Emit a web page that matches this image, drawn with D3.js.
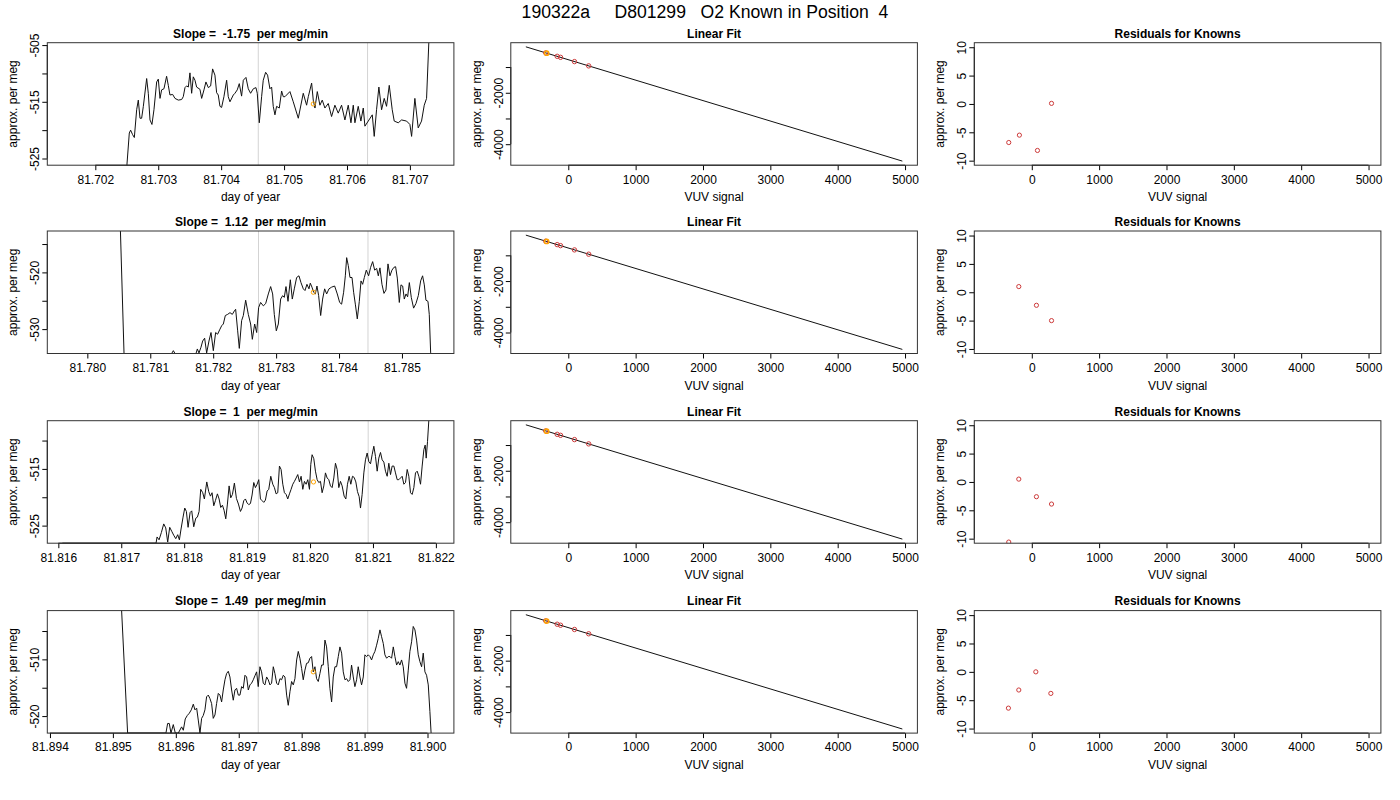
<!DOCTYPE html>
<html><head><meta charset="utf-8">
<script src="https://cdn.jsdelivr.net/npm/d3@7"></script>
<style>
body{margin:0;background:#fff;}
svg{font-family:"Liberation Sans",Arial,Helvetica,sans-serif;}
text{white-space:pre;}
</style></head><body>
<svg id="c" width="1400" height="800"></svg>
<script>
// ---------------- DATA ----------------
const mainTitle = "190322a     D801299   O2 Known in Position  4";
const tsTitles = ["Slope =  -1.75  per meg/min", "Slope =  1.12  per meg/min", "Slope =  1  per meg/min", "Slope =  1.49  per meg/min"];

const series1 = [[81.701476,-540],[81.702480,-540],[81.702503,-526.0],[81.702540,-520.5],[81.702561,-520.0],[81.702593,-520.8],[81.702620,-521.3],[81.702657,-516.4],[81.702683,-514.7],[81.702710,-517.9],[81.702736,-517.9],[81.702763,-515.8],[81.702816,-510.9],[81.702842,-513.5],[81.702869,-518.2],[81.702900,-519.0],[81.702932,-516.4],[81.702975,-511.5],[81.703001,-511.0],[81.703028,-514.4],[81.703054,-512.9],[81.703091,-512.7],[81.703133,-510.5],[81.703160,-512.1],[81.703186,-513.8],[81.703229,-513.7],[81.703266,-514.4],[81.703319,-514.7],[81.703372,-514.6],[81.703398,-514.1],[81.703425,-512.5],[81.703451,-512.2],[81.703478,-512.4],[81.703504,-509.9],[81.703531,-513.5],[81.703557,-510.6],[81.703584,-511.2],[81.703610,-512.4],[81.703663,-512.8],[81.703690,-514.4],[81.703727,-512.9],[81.703758,-511.5],[81.703796,-512.5],[81.703833,-512.2],[81.703864,-509.2],[81.703901,-510.3],[81.703928,-513.4],[81.703954,-513.8],[81.703981,-515.8],[81.704007,-516.0],[81.704044,-514.1],[81.704087,-511.2],[81.704113,-514.1],[81.704140,-515.0],[81.704193,-513.8],[81.704219,-513.5],[81.704256,-512.9],[81.704288,-511.8],[81.704325,-514.0],[81.704352,-511.2],[81.704394,-510.7],[81.704431,-512.7],[81.704468,-513.5],[81.704511,-512.7],[81.704553,-512.5],[81.704574,-513.5],[81.704606,-518.7],[81.704643,-514.1],[81.704669,-511.2],[81.704707,-509.8],[81.704738,-510.3],[81.704775,-512.7],[81.704802,-512.4],[81.704828,-515.8],[81.704855,-517.3],[81.704881,-515.8],[81.704924,-516.1],[81.704961,-513.1],[81.704987,-514.1],[81.705014,-514.1],[81.705093,-513.2],[81.705146,-515.0],[81.705226,-517.9],[81.705305,-513.5],[81.705358,-515.6],[81.705385,-514.1],[81.705438,-511.7],[81.705464,-514.7],[81.705491,-516.1],[81.705528,-513.2],[81.705570,-515.6],[81.705607,-514.7],[81.705649,-516.1],[81.705702,-515.3],[81.705755,-517.6],[81.705808,-515.6],[81.705861,-517.0],[81.705914,-515.6],[81.705967,-518.2],[81.706020,-515.6],[81.706063,-518.7],[81.706100,-515.6],[81.706126,-518.7],[81.706179,-515.8],[81.706221,-518.4],[81.706259,-516.1],[81.706285,-519.3],[81.706338,-518.4],[81.706402,-517.3],[81.706433,-521.1],[81.706470,-516.4],[81.706507,-512.4],[81.706550,-516.4],[81.706592,-514.4],[81.706629,-515.8],[81.706672,-512.1],[81.706719,-516.4],[81.706751,-518.4],[81.706815,-518.7],[81.706868,-518.2],[81.706947,-518.4],[81.707000,-519.0],[81.707027,-521.1],[81.707079,-514.4],[81.707132,-519.6],[81.707185,-518.4],[81.707228,-515.6],[81.707265,-514.4],[81.707302,-504.2],[81.707460,-490]];

const series2 = [[81.779603,-498],[81.780508,-506],[81.780583,-534.3],[81.781340,-534.3],[81.781367,-533.8],[81.781393,-534.3],[81.781727,-534.3],[81.781748,-533.5],[81.781774,-534.2],[81.781806,-533.2],[81.781833,-532.1],[81.781864,-531.6],[81.781896,-534.2],[81.781933,-532.1],[81.781965,-530.6],[81.782002,-533.8],[81.782039,-530.6],[81.782070,-530.9],[81.782108,-530.0],[81.782135,-529.4],[81.782161,-529.1],[81.782193,-527.6],[81.782230,-527.4],[81.782267,-527.1],[81.782304,-527.4],[81.782336,-526.8],[81.782357,-526.5],[81.782389,-530.3],[81.782415,-533.4],[81.782452,-528.5],[81.782479,-527.6],[81.782516,-524.9],[81.782558,-527.4],[81.782595,-529.1],[81.782622,-531.8],[81.782659,-529.1],[81.782691,-530.6],[81.782722,-526.2],[81.782754,-525.3],[81.782797,-525.9],[81.782834,-525.5],[81.782876,-523.8],[81.782913,-522.5],[81.782945,-523.8],[81.782971,-527.4],[81.783003,-530.3],[81.783035,-529.1],[81.783072,-524.7],[81.783104,-524.1],[81.783130,-524.4],[81.783157,-522.5],[81.783189,-525.1],[81.783226,-521.3],[81.783257,-524.7],[81.783289,-522.9],[81.783326,-520.9],[81.783363,-520.6],[81.783395,-521.8],[81.783432,-522.9],[81.783459,-523.2],[81.783490,-522.1],[81.783522,-522.9],[81.783543,-521.9],[81.783570,-522.6],[81.783596,-523.5],[81.783623,-523.8],[81.783649,-522.4],[81.783676,-524.1],[81.783708,-527.6],[81.783739,-524.7],[81.783771,-522.9],[81.783803,-523.8],[81.783840,-522.9],[81.783882,-522.6],[81.783930,-522.4],[81.783972,-523.8],[81.784010,-525.3],[81.784041,-525.6],[81.784073,-523.5],[81.784100,-520.6],[81.784121,-517.4],[81.784147,-518.8],[81.784174,-520.9],[81.784206,-520.9],[81.784232,-523.5],[81.784259,-525.6],[81.784290,-528.2],[81.784322,-525.1],[81.784349,-521.5],[81.784375,-522.1],[81.784402,-520.9],[81.784433,-519.6],[81.784470,-520.6],[81.784502,-519.1],[81.784534,-518.1],[81.784566,-519.6],[81.784598,-519.3],[81.784624,-520.6],[81.784650,-519.2],[81.784682,-522.1],[81.784714,-523.7],[81.784746,-523.1],[81.784778,-518.5],[81.784809,-520.6],[81.784841,-519.6],[81.784873,-519.1],[81.784899,-519.0],[81.784926,-521.0],[81.784958,-525.3],[81.784984,-522.2],[81.785011,-522.4],[81.785037,-524.7],[81.785064,-523.8],[81.785090,-524.3],[81.785117,-521.8],[81.785148,-524.4],[81.785185,-526.3],[81.785222,-525.5],[81.785260,-524.1],[81.785297,-521.5],[81.785328,-520.6],[81.785355,-522.2],[81.785381,-524.9],[81.785413,-525.1],[81.785434,-527.4],[81.785456,-534.2],[81.785586,-545]];

const series3 = [[81.816064,-528.1],[81.817553,-528.1],[81.817569,-527.0],[81.817601,-527.5],[81.817638,-526.2],[81.817675,-524.7],[81.817707,-525.4],[81.817738,-527.9],[81.817770,-525.3],[81.817802,-526.0],[81.817834,-526.7],[81.817866,-527.3],[81.817897,-526.6],[81.817924,-527.5],[81.817950,-525.6],[81.817982,-523.5],[81.818009,-521.9],[81.818035,-522.5],[81.818062,-525.3],[81.818094,-522.7],[81.818120,-522.4],[81.818152,-525.2],[81.818184,-523.7],[81.818210,-523.5],[81.818237,-522.5],[81.818263,-518.6],[81.818295,-519.2],[81.818321,-520.3],[81.818359,-517.3],[81.818390,-519.0],[81.818417,-519.8],[81.818443,-519.2],[81.818470,-521.5],[81.818496,-520.6],[81.818528,-519.4],[81.818555,-520.3],[81.818581,-521.8],[81.818608,-521.4],[81.818634,-522.3],[81.818661,-523.8],[81.818687,-521.2],[81.818714,-518.0],[81.818740,-520.1],[81.818767,-519.5],[81.818798,-517.5],[81.818830,-520.2],[81.818862,-521.2],[81.818894,-522.5],[81.818920,-521.9],[81.818947,-520.6],[81.818973,-520.3],[81.819000,-521.0],[81.819026,-521.3],[81.819053,-521.1],[81.819079,-519.6],[81.819106,-517.4],[81.819132,-518.3],[81.819159,-517.7],[81.819185,-516.9],[81.819212,-520.3],[81.819238,-520.6],[81.819265,-520.9],[81.819291,-520.5],[81.819318,-518.9],[81.819344,-518.6],[81.819376,-516.3],[81.819408,-517.7],[81.819434,-518.3],[81.819461,-519.4],[81.819487,-519.2],[81.819514,-514.5],[81.819540,-515.1],[81.819567,-517.7],[81.819593,-519.2],[81.819620,-519.5],[81.819646,-520.3],[81.819673,-519.4],[81.819699,-518.6],[81.819726,-517.7],[81.819752,-517.2],[81.819779,-516.6],[81.819805,-516.0],[81.819832,-517.3],[81.819858,-516.3],[81.819885,-518.6],[81.819911,-517.2],[81.819938,-517.7],[81.819964,-516.9],[81.819991,-518.6],[81.820012,-514.2],[81.820033,-512.5],[81.820060,-513.2],[81.820086,-515.4],[81.820113,-516.9],[81.820139,-517.4],[81.820166,-517.2],[81.820192,-519.2],[81.820219,-518.0],[81.820245,-515.7],[81.820272,-516.6],[81.820298,-516.9],[81.820325,-518.0],[81.820351,-518.3],[81.820378,-516.6],[81.820404,-514.0],[81.820431,-515.1],[81.820457,-518.3],[81.820484,-517.2],[81.820510,-518.0],[81.820542,-519.8],[81.820569,-520.3],[81.820595,-517.7],[81.820622,-516.3],[81.820648,-517.7],[81.820675,-516.3],[81.820701,-516.5],[81.820728,-517.3],[81.820754,-519.0],[81.820781,-519.9],[81.820802,-521.9],[81.820828,-519.5],[81.820855,-515.7],[81.820881,-513.4],[81.820908,-512.2],[81.820934,-513.7],[81.820961,-514.1],[81.820987,-512.5],[81.821014,-511.0],[81.821040,-512.8],[81.821067,-515.4],[81.821093,-513.1],[81.821120,-512.1],[81.821146,-513.4],[81.821173,-513.8],[81.821199,-515.4],[81.821226,-516.3],[81.821252,-514.0],[81.821279,-516.0],[81.821305,-514.5],[81.821332,-514.5],[81.821358,-515.7],[81.821385,-516.9],[81.821411,-516.9],[81.821438,-516.6],[81.821464,-516.3],[81.821491,-517.7],[81.821517,-517.4],[81.821544,-515.1],[81.821570,-516.3],[81.821597,-519.2],[81.821623,-519.5],[81.821650,-518.3],[81.821676,-515.7],[81.821703,-515.4],[81.821729,-516.3],[81.821756,-517.7],[81.821782,-514.5],[81.821809,-511.6],[81.821830,-510.8],[81.821846,-513.1],[81.821867,-510.2],[81.821888,-506.4],[81.822047,-495]];

const series4 = [[81.894197,-490],[81.895128,-499],[81.895234,-523.0],[81.895843,-523.0],[81.895870,-521.3],[81.895896,-521.3],[81.895923,-523.0],[81.895960,-521.5],[81.895992,-523.0],[81.896039,-523.0],[81.896092,-521.9],[81.896119,-522.5],[81.896150,-520.5],[81.896182,-519.9],[81.896214,-519.5],[81.896246,-518.9],[81.896278,-517.9],[81.896304,-518.9],[81.896331,-518.6],[81.896357,-520.7],[81.896384,-523.0],[81.896410,-520.4],[81.896436,-519.9],[81.896463,-518.9],[81.896489,-516.6],[81.896516,-516.3],[81.896542,-516.9],[81.896569,-517.8],[81.896595,-520.4],[81.896622,-519.8],[81.896648,-517.8],[81.896675,-516.0],[81.896701,-516.3],[81.896728,-517.5],[81.896754,-515.4],[81.896781,-513.6],[81.896807,-512.5],[81.896834,-512.1],[81.896860,-513.1],[81.896887,-515.4],[81.896913,-517.2],[81.896940,-515.4],[81.896966,-515.1],[81.896993,-516.3],[81.897019,-516.3],[81.897046,-514.8],[81.897072,-515.1],[81.897099,-512.8],[81.897125,-513.1],[81.897152,-515.4],[81.897178,-514.5],[81.897204,-514.2],[81.897231,-513.6],[81.897257,-512.9],[81.897284,-512.2],[81.897310,-514.8],[81.897337,-511.3],[81.897363,-512.2],[81.897390,-514.2],[81.897416,-514.5],[81.897443,-513.1],[81.897469,-513.6],[81.897496,-514.5],[81.897522,-514.2],[81.897549,-511.3],[81.897575,-512.5],[81.897602,-514.2],[81.897628,-514.5],[81.897655,-513.4],[81.897681,-513.6],[81.897708,-512.8],[81.897734,-513.1],[81.897761,-516.3],[81.897787,-518.1],[81.897814,-515.7],[81.897840,-513.9],[81.897867,-514.5],[81.897893,-513.4],[81.897920,-510.1],[81.897946,-508.6],[81.897972,-509.8],[81.897999,-511.6],[81.898025,-513.6],[81.898052,-511.9],[81.898078,-510.7],[81.898105,-510.6],[81.898131,-509.8],[81.898158,-509.5],[81.898184,-512.2],[81.898211,-511.3],[81.898237,-513.4],[81.898264,-513.9],[81.898290,-512.5],[81.898317,-511.0],[81.898343,-511.0],[81.898370,-506.6],[81.898396,-507.8],[81.898423,-511.3],[81.898449,-515.1],[81.898476,-517.5],[81.898502,-513.1],[81.898529,-511.3],[81.898555,-511.3],[81.898582,-509.5],[81.898608,-507.8],[81.898635,-508.9],[81.898661,-512.2],[81.898688,-513.6],[81.898714,-513.4],[81.898741,-513.9],[81.898767,-513.6],[81.898793,-511.0],[81.898820,-513.1],[81.898846,-514.8],[81.898873,-513.6],[81.898899,-511.3],[81.898926,-513.1],[81.898952,-514.5],[81.898979,-513.1],[81.899005,-509.2],[81.899032,-509.5],[81.899058,-509.2],[81.899085,-509.5],[81.899111,-510.1],[81.899138,-509.2],[81.899164,-508.6],[81.899191,-507.5],[81.899217,-506.3],[81.899244,-504.8],[81.899270,-506.0],[81.899297,-507.2],[81.899323,-509.2],[81.899350,-509.8],[81.899376,-509.5],[81.899403,-509.5],[81.899429,-509.8],[81.899456,-507.8],[81.899482,-509.5],[81.899509,-511.0],[81.899535,-510.4],[81.899561,-511.0],[81.899588,-510.1],[81.899614,-511.3],[81.899641,-514.2],[81.899667,-515.1],[81.899694,-511.9],[81.899720,-508.6],[81.899747,-506.9],[81.899773,-504.2],[81.899800,-504.8],[81.899826,-506.6],[81.899853,-509.2],[81.899879,-510.4],[81.899906,-511.3],[81.899932,-508.9],[81.899959,-512.2],[81.899985,-512.8],[81.900012,-514.5],[81.900038,-519.2],[81.900059,-523.4],[81.900180,-535]];

// averaging window (gray lines) per panel
const windows = [[81.704590, 81.706327], [81.782720, 81.784460], [81.819180, 81.820924], [81.897310, 81.899050]];
// orange mean point per panel [day, value]
const meanPts = [[81.705464, -515.38], [81.783591, -523.5], [81.820055, -517.3], [81.898184, -512.2]];
// y limits (before R's 4% extension)
const tsYLims = [[-525.38, -505.38], [-533.5, -513.5], [-527.3, -507.3], [-522.2, -502.2]];

// Linear fit panels
const fitXLim = [-630, 4960];
const fitYLim = [-4640, -230];
const fitLine = [[-630, -214], [4960, -4657]];
const fitKnownX = [-335, -165, -115, 92, 303];
const fitKnownY = [-450, -583, -623, -788, -955];
const fitSample = [-321, -460];

// Residuals for knowns per row [VUV signal, residual]
const resid1 = [[-342, -6.8], [-184, -5.5], [84, -8.2], [293, 0.1]];
const resid2 = [[-193, 1.0], [69, -2.3], [293, -5.0]];
const resid3 = [[-342, -10.6], [-193, 0.5], [69, -2.6], [293, -3.9]];
const resid4 = [[-347, -6.4], [-193, -3.2], [60, 0.0], [283, -3.8]];
const resYLim = [-10, 10];

// ---------------- DRAWING ----------------
const svg = d3.select("#c");
const colLeft = [47.3, 510.8, 974.3], plotW = 406.6;
const rowTop = [42.7, 231.0, 420.7, 610.6], plotH = 122.5;
const tsSeries = [series1, series2, series3, series4];
const residSets = [resid1, resid2, resid3, resid4];
const RED = "#cd3b3b", ORANGE = "#ffa500";

function rPad(ext) { const d = (ext[1] - ext[0]) * 0.04; return [ext[0] - d, ext[1] + d]; }
const numFmt = d => String(d);

let clipId = 0;
function panel(row, col, xDom, yDom, opts) {
  const x0 = colLeft[col], y0 = rowTop[row];
  const g = svg.append("g").attr("transform", `translate(${x0},${y0})`);
  const x = d3.scaleLinear().domain(xDom).range([0, plotW]);
  const y = d3.scaleLinear().domain(yDom).range([plotH, 0]);
  const id = "clip" + (clipId++);
  g.append("clipPath").attr("id", id).append("rect").attr("width", plotW).attr("height", plotH);
  const inner = g.append("g").attr("clip-path", `url(#${id})`);

  // x axis
  const xa = g.append("g").attr("transform", `translate(0,${plotH})`)
    .call(d3.axisBottom(x).tickValues(x.ticks(6)).tickSize(5).tickFormat(opts.xFmt));
  xa.attr("font-size", null).attr("font-family", null);
  xa.select(".domain").remove();
  xa.selectAll("text").attr("y", 18.4).attr("dy", null).style("font-size", "12px").attr("fill", "#000");

  // y axis
  const yt = y.ticks(5);
  const ya = g.append("g")
    .call(d3.axisLeft(y).tickValues(yt).tickSize(5)
      .tickFormat((d, i) => (opts.alt && i % 2 === 1) ? "" : numFmt(d)));
  ya.attr("font-size", null).attr("font-family", null);
  ya.select(".domain").remove();
  ya.selectAll("text").attr("x", 0).attr("y", -8).attr("dy", null)
    .attr("transform", "rotate(-90)").attr("text-anchor", "middle")
    .style("font-size", "12px").attr("fill", "#000");

  // axis lines (first to last tick, R style)
  const xt = x.ticks(6);
  g.append("line").attr("x1", x(xt[0])).attr("x2", x(xt[xt.length - 1]))
    .attr("y1", plotH).attr("y2", plotH).attr("stroke", "#000");
  g.append("line").attr("y1", y(yt[0])).attr("y2", y(yt[yt.length - 1]))
    .attr("x1", 0).attr("x2", 0).attr("stroke", "#000");

  // box
  g.append("rect").attr("width", plotW).attr("height", plotH)
    .attr("fill", "none").attr("stroke", "#333").attr("stroke-width", 1);

  // titles
  g.append("text").attr("x", plotW / 2).attr("y", -5.2).attr("text-anchor", "middle")
    .style("font-size", "12px").style("font-weight", "bold").text(opts.title);
  g.append("text").attr("x", plotW / 2).attr("y", plotH + 36.2).attr("text-anchor", "middle")
    .style("font-size", "12px").text(opts.xlab);
  g.append("text").attr("transform", `translate(-30.3,${plotH / 2}) rotate(-90)`)
    .attr("text-anchor", "middle").style("font-size", "12px").text("approx. per meg");

  return { g, inner, x, y };
}

// main title
svg.append("text").attr("x", 705).attr("y", 17.5).attr("text-anchor", "middle")
  .style("font-size", "17.6px").text(mainTitle);

for (let r = 0; r < 4; r++) {
  // --- time series panel ---
  const s = tsSeries[r];
  const p = panel(r, 0, rPad(d3.extent(s, d => d[0])), rPad(tsYLims[r]),
    { xFmt: d3.format(".3f"), alt: true, title: tsTitles[r], xlab: "day of year" });
  windows[r].forEach(w => {
    p.inner.append("line").attr("x1", p.x(w)).attr("x2", p.x(w))
      .attr("y1", 0).attr("y2", plotH).attr("stroke", "#d3d3d3").attr("stroke-width", 1);
  });
  p.inner.append("path").datum(s)
    .attr("d", d3.line().x(d => p.x(d[0])).y(d => p.y(d[1])))
    .attr("fill", "none").attr("stroke", "#111").attr("stroke-width", 1);
  p.inner.append("circle").attr("cx", p.x(meanPts[r][0])).attr("cy", p.y(meanPts[r][1]))
    .attr("r", 2.1).attr("fill", "none").attr("stroke", ORANGE).attr("stroke-width", 1);

  // --- linear fit panel ---
  const f = panel(r, 1, rPad(fitXLim), rPad(fitYLim),
    { xFmt: numFmt, alt: true, title: "Linear Fit", xlab: "VUV signal" });
  f.inner.append("path").datum(fitLine)
    .attr("d", d3.line().x(d => f.x(d[0])).y(d => f.y(d[1])))
    .attr("fill", "none").attr("stroke", "#111").attr("stroke-width", 1);
  fitKnownX.forEach((kx, i) => {
    f.inner.append("circle").attr("cx", f.x(kx)).attr("cy", f.y(fitKnownY[i]))
      .attr("r", 2.2).attr("fill", "none").attr("stroke", RED).attr("stroke-width", 1);
  });
  f.inner.append("circle").attr("cx", f.x(fitSample[0])).attr("cy", f.y(fitSample[1]))
    .attr("r", 2.2).attr("fill", "none").attr("stroke", ORANGE).attr("stroke-width", 1.4);

  // --- residual panel ---
  const q = panel(r, 2, rPad(fitXLim), rPad(resYLim),
    { xFmt: numFmt, alt: false, title: "Residuals for Knowns", xlab: "VUV signal" });
  residSets[r].forEach(d => {
    q.inner.append("circle").attr("cx", q.x(d[0])).attr("cy", q.y(d[1]))
      .attr("r", 2.1).attr("fill", "none").attr("stroke", RED).attr("stroke-width", 1);
  });
}
</script>
</body></html>
